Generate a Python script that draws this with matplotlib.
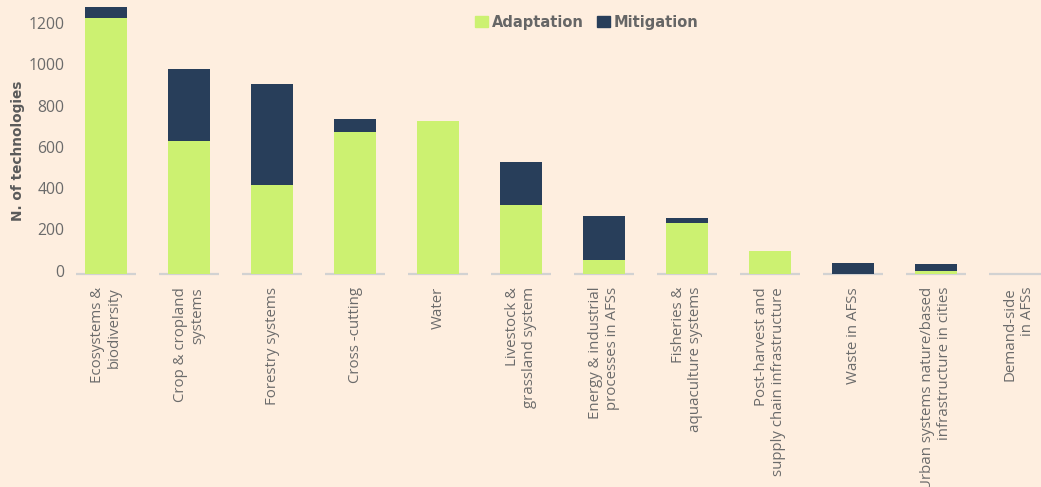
import matplotlib.pyplot as plt
from matplotlib.patches import Patch
from matplotlib.transforms import ScaledTranslation

categories = [
    "Ecosystems &\nbiodiversity",
    "Crop & cropland\nsystems",
    "Forestry systems",
    "Cross -cutting",
    "Water",
    "Livestock &\ngrassland system",
    "Energy & industrial\nprocesses in AFSs",
    "Fisheries &\naquaculture systems",
    "Post-harvest and\nsupply chain infrastructure",
    "Waste in AFSs",
    "Urban systems nature/based\ninfrastructure in cities",
    "Demand-side\nin AFSs",
]
adaptation = [1243, 646, 432, 689, 743, 335, 68, 247, 112, 0, 15, 0]
mitigation = [54, 349, 490, 63, 0, 209, 214, 24, 0, 53, 33, 0]
yticks = [0, 200, 400, 600, 800, 1000, 1200]

bg = "#FEEEDF"
green = "#CCF171"
navy = "#283E5A"
grey_txt = "#6B6B6B"

fig = plt.figure(figsize=(10.41, 4.87), dpi=100, facecolor=bg)
ax = fig.add_axes([70 / 1041, 1 - 280 / 487, 1 - 70 / 1041, 280 / 487])
ax.set_facecolor(bg)

x = list(range(len(categories)))
ax.bar(x, adaptation, width=0.51, color=green, zorder=2)
ax.bar(x, mitigation, width=0.51, bottom=adaptation, color=navy, zorder=2)

# segmented baseline under each category
for i in x:
    ax.plot([i - 0.36, i + 0.36], [0, 0], color="#D2D2D2", lw=1.6,
            solid_capstyle="butt", zorder=1)

ax.set_xlim(-0.434, 11.265)
ax.set_ylim(-29, 1330)

for s in ax.spines.values():
    s.set_visible(False)
ax.tick_params(length=0)

ax.set_yticks(yticks)
ax.set_yticklabels([str(v) for v in yticks], fontsize=11.3, color=grey_txt,
                   family="Open Sans")
ax.tick_params(axis="y", pad=4)
for lab in ax.get_yticklabels():
    lab.set_transform(lab.get_transform() + ScaledTranslation(0, 3.5 / 100, fig.dpi_scale_trans))

ax.set_xticks(x)
ax.set_xticklabels(categories, rotation=90, fontsize=10.8, color=grey_txt,
                   family="Open Sans", va="top", ha="center",
                   multialignment="right")
ax.tick_params(axis="x", pad=5)

fig.text(18 / 1041, 1 - 151 / 487, "N. of technologies", rotation=90,
         ha="center", va="center", fontsize=9.8, fontweight="bold",
         color="#5A5A5A")

handles = [Patch(color=green, label="Adaptation"), Patch(color=navy, label="Mitigation")]
leg = fig.legend(handles=handles, loc="center", bbox_to_anchor=(587 / 1041, 1 - 22 / 487),
                 ncol=2, frameon=False, handlelength=0.85, handleheight=0.85,
                 handletextpad=0.3, columnspacing=0.9,
                 prop={"weight": "bold", "size": 10.5})
for t in leg.get_texts():
    t.set_color("#666666")

fig.savefig("out.png", dpi=100, facecolor=bg)
